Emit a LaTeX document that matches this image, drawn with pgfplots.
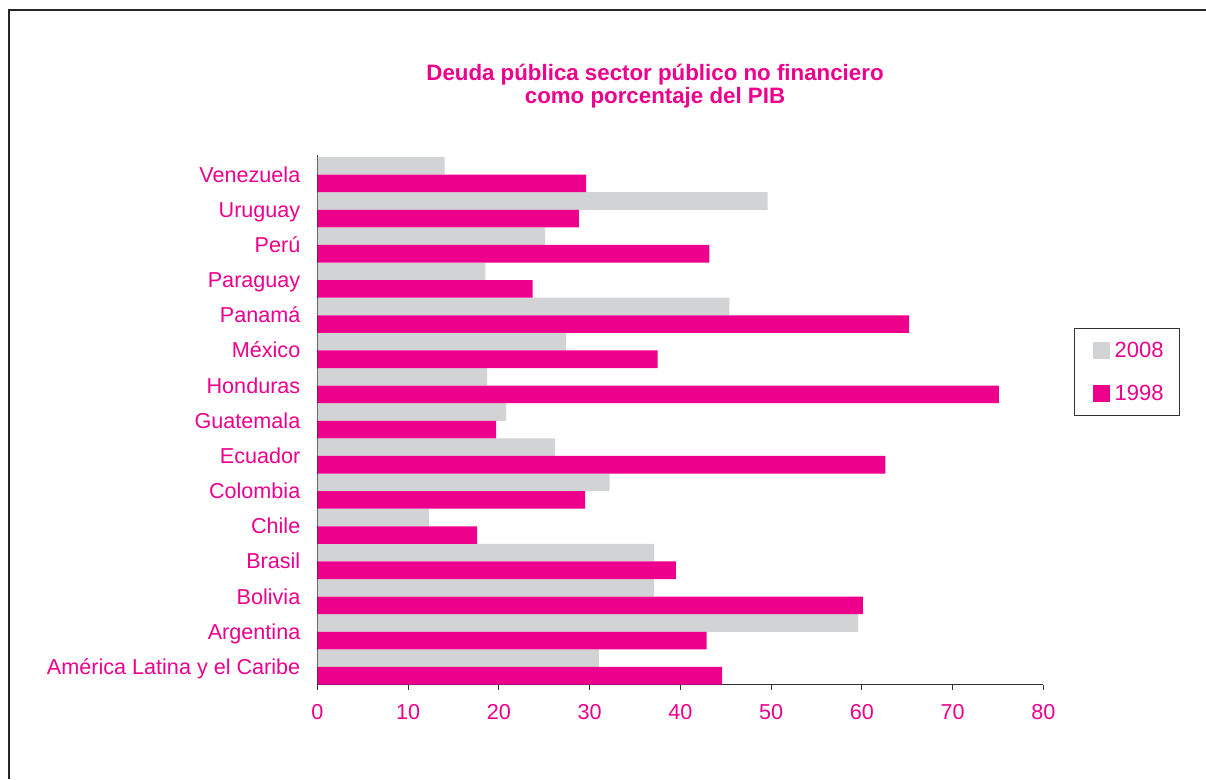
\documentclass[border=0pt]{standalone}
\usepackage{fontspec}
\setmainfont{Liberation Sans}
\usepackage{pgfplots}
\pgfplotsset{compat=1.18}
\definecolor{mag}{HTML}{EC008C}
\definecolor{gbar}{HTML}{D1D3D4}
\definecolor{axc}{HTML}{333333}
\pgfplotstableread{
y  v2008 v1998
0  31.0  44.6
1  59.6  42.9
2  37.1  60.1
3  37.1  39.5
4  12.3  17.6
5  32.2  29.5
6  26.2  62.6
7  20.8  19.7
8  18.7  75.1
9  27.4  37.5
10 45.4  65.2
11 18.5  23.7
12 25.1  43.2
13 49.6  28.8
14 14.0  29.6
}\datatable
\begin{document}
\begin{tikzpicture}[x=1pt,y=1pt]
\useasboundingbox (0,0) rectangle (1206,779);
\draw[line width=2.5pt, black!85] (9,0) -- (9,769) -- (1206,769);
\begin{axis}[
  at={(317.5pt,94.5pt)}, anchor=south west,
  scale only axis, width=725.8pt, height=529.5pt,
  xmin=0, xmax=80, ymin=-0.5, ymax=14.557,
  axis lines*=left,
  axis line style={axc, line width=1.2pt},
  xtick={0,10,...,80}, ytick={0,...,14},
  yticklabels={América Latina y el Caribe, Argentina, Bolivia, Brasil, Chile, Colombia, Ecuador, Guatemala, Honduras, México, Panamá, Paraguay, Perú, Uruguay, Venezuela},
  tick align=outside, major tick length=5pt,
  xtick style={axc, line width=1pt},
  ytick style={draw=none},
  tick label style={font=\fontsize{21.6}{25}\selectfont, text=mag},
  /pgf/number format/assume math mode=true,
  xticklabel style={anchor=center, yshift=-23pt},
  yticklabel style={anchor=base east, inner sep=0pt, xshift=-12pt, yshift=-7.5pt},
  legend style={
    at={(1.0423,0.6733)}, anchor=north west,
    draw=axc, line width=1.3pt, fill=white,
    font=\fontsize{22}{25}\selectfont, text=mag,
    inner xsep=14pt, inner ysep=11pt,
    row sep=23pt,
    /tikz/every odd column/.append style={column sep=3pt},
  },
  legend cell align=left,
]
\addplot[xbar, fill=gbar, draw=none, bar width=0.5, bar shift=0.25,
  legend image code/.code={\path (0pt,0pt); \fill[gbar] (4pt,-8.5pt) rectangle (21pt,8.5pt);}]
  table[x=v2008, y=y] {\datatable};
\addlegendentry{2008}
\addplot[xbar, fill=mag, draw=none, bar width=0.5, bar shift=-0.25,
  legend image code/.code={\path (0pt,0pt); \fill[mag] (4pt,-8.5pt) rectangle (21pt,8.5pt);}]
  table[x=v1998, y=y] {\datatable};
\addlegendentry{1998}
\end{axis}
\node[anchor=base, font=\bfseries\fontsize{22.3}{22}\selectfont, text=mag] at (655,698) {Deuda pública sector público no financiero};
\node[anchor=base, font=\bfseries\fontsize{22.3}{22}\selectfont, text=mag] at (655,675.7) {como porcentaje del PIB};
\end{tikzpicture}
\end{document}
